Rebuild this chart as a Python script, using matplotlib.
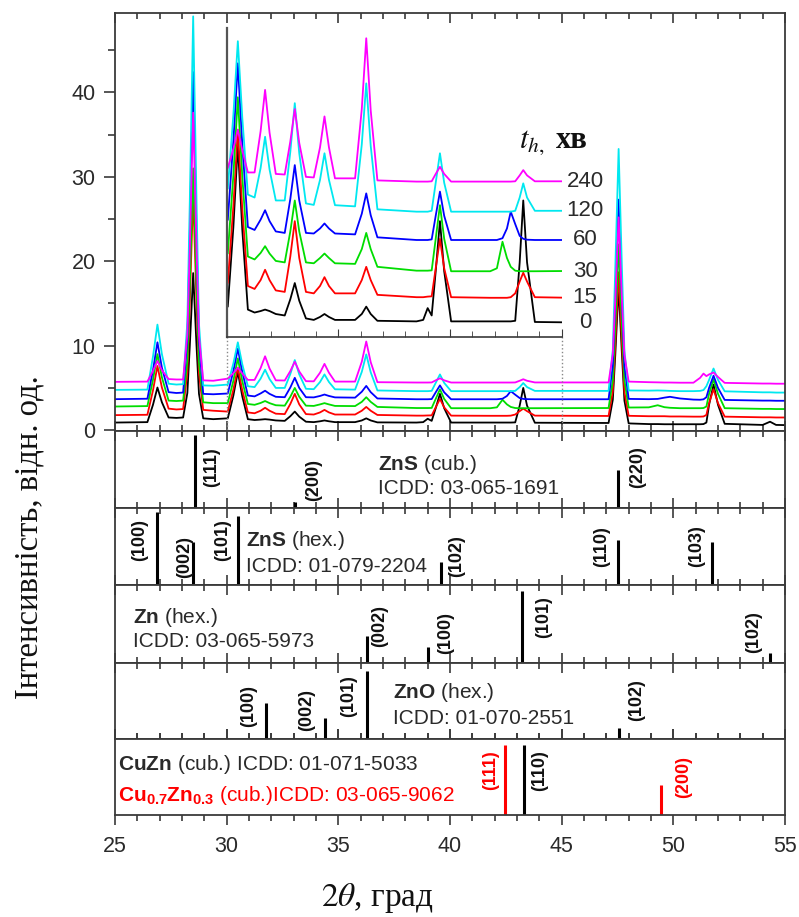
import numpy as np
import matplotlib.pyplot as plt
from matplotlib import transforms
from matplotlib.ticker import MultipleLocator

plt.rcParams['font.family'] = ['Liberation Sans', 'DejaVu Sans']
plt.rcParams['mathtext.fontset'] = 'custom'
plt.rcParams['mathtext.rm'] = 'Liberation Sans'
plt.rcParams['mathtext.bf'] = 'Liberation Sans:bold'
plt.rcParams['mathtext.it'] = 'Liberation Sans:italic'

# --- XRD patterns, 2theta grid (deg) and intensities for each hold time ---
two_theta = [25.0, 26.45, 26.7, 26.9, 27.1, 27.4, 27.75,
             28.05, 28.24, 28.35, 28.5, 28.65, 28.76, 28.95, 29.4,
             30.05, 30.3, 30.5, 30.7, 30.95,
             31.25, 31.52, 31.72, 31.92, 32.2,
             32.6, 32.85, 33.05, 33.25, 33.55,
             33.9, 34.18, 34.38, 34.58, 34.85,
             35.75, 36.05, 36.25, 36.45, 36.75,
             38.5, 38.8, 39.0, 39.18, 39.36, 39.55, 39.74, 40.05,
             41.8, 42.1, 42.35, 42.55, 42.72, 42.92, 43.12, 43.28, 43.45, 43.8,
             47.1, 47.29, 47.4, 47.55, 47.7, 47.81, 48.0,
             48.9, 49.3, 49.6, 49.85, 50.3,
             50.9, 51.2, 51.35, 51.48, 51.6, 51.8, 52.0, 52.3,
             54.0, 54.33, 54.6, 55.0]

i_0 = [0.9, 0.95, 3.0, 5.05, 3.3, 1.5, 1.45,
       1.5, 4.4, 10.0, 18.6, 10.0, 4.3, 1.4, 1.3,
       1.4, 4.1, 6.9, 4.0, 1.3,
       1.2, 1.25, 1.3, 1.25, 1.15,
       1.1, 1.65, 2.2, 1.6, 1.0,
       0.95, 1.05, 1.15, 1.05, 0.95,
       0.95, 1.15, 1.4, 1.15, 0.92,
       0.9, 0.95, 1.35, 1.1, 2.6, 4.3, 2.6, 0.9,
       0.9, 0.9, 0.9, 0.9, 0.9, 0.92, 2.9, 5.0, 2.9, 0.88,
       0.85, 3.6, 8.9, 17.0, 8.9, 3.5, 0.8,
       0.72, 0.72, 0.7, 0.7, 0.7,
       0.7, 0.7, 0.72, 0.9, 3.0, 5.4, 3.0, 0.75,
       0.62, 1.0, 0.62, 0.6]

i_15 = [1.78, 1.82, 4.7, 7.6, 5.05, 2.55, 2.45,
        2.5, 6.85, 15.2, 28.0, 15.2, 6.7, 2.4, 2.3,
        2.2, 4.8, 7.4, 4.7, 2.1,
        2.0, 2.3, 2.65, 2.3, 1.95,
        1.9, 3.1, 4.3, 3.05, 1.9,
        1.85, 2.1, 2.4, 2.1, 1.85,
        1.85, 2.3, 2.75, 2.3, 1.8,
        1.72, 1.72, 1.74, 1.75, 2.7, 3.7, 2.7, 1.72,
        1.7, 1.7, 1.7, 1.7, 1.72, 1.85, 2.25, 2.55, 2.25, 1.72,
        1.68, 4.6, 10.2, 18.7, 10.2, 4.5, 1.7,
        1.65, 1.65, 1.65, 1.62, 1.62,
        1.6, 1.6, 1.62, 1.8, 3.2, 4.85, 3.2, 1.6,
        1.52, 1.52, 1.5, 1.5]

i_30 = [2.8, 2.85, 5.95, 9.0, 6.25, 3.5, 3.45,
        3.5, 8.2, 17.2, 31.0, 17.2, 8.0, 3.3, 3.2,
        3.2, 5.85, 8.5, 5.8, 3.1,
        3.0, 3.22, 3.45, 3.2, 2.95,
        2.9, 3.95, 5.0, 3.95, 2.9,
        2.87, 3.05, 3.2, 3.05, 2.87,
        2.85, 3.35, 3.9, 3.35, 2.75,
        2.62, 2.62, 2.62, 2.63, 3.7, 4.84, 3.7, 2.6,
        2.6, 2.7, 3.6, 3.05, 2.75, 2.62, 2.6, 2.6, 2.6, 2.6,
        2.62, 5.9, 12.3, 22.0, 12.3, 5.9, 2.68,
        2.7, 2.95, 2.72, 2.65, 2.6,
        2.6, 2.6, 2.62, 2.8, 4.3, 6.0, 4.3, 2.6,
        2.52, 2.52, 2.5, 2.5]

i_60 = [3.67, 3.72, 7.1, 10.4, 7.4, 4.5, 4.4,
        4.45, 10.9, 23.4, 42.4, 23.3, 10.6, 4.3, 4.25,
        4.34, 7.0, 9.65, 6.9, 4.1,
        4.0, 4.35, 4.67, 4.3, 3.95,
        3.9, 5.05, 6.2, 5.0, 3.9,
        3.88, 4.05, 4.22, 4.05, 3.88,
        3.85, 4.55, 5.24, 4.5, 3.75,
        3.66, 3.66, 3.66, 3.68, 4.48, 5.3, 4.48, 3.66,
        3.66, 3.66, 3.72, 4.05, 4.62, 4.2, 3.8, 3.7, 3.67, 3.66,
        3.66, 7.7, 15.5, 27.3, 15.4, 7.6, 3.7,
        3.67, 3.7, 3.85, 3.95, 3.75,
        3.62, 3.6, 3.65, 3.9, 5.0, 6.45, 5.0, 3.58,
        3.5, 3.5, 3.48, 3.48]

i_120 = [4.77, 4.8, 8.7, 12.5, 9.0, 5.5, 5.4,
         5.45, 12.85, 27.2, 49.0, 27.1, 12.6, 5.3, 5.26,
         5.4, 7.9, 10.4, 7.8, 5.2,
         5.1, 6.1, 7.16, 6.05, 5.0,
         5.0, 6.65, 8.3, 6.6, 4.9,
         4.85, 5.7, 6.6, 5.7, 4.84,
         4.8, 6.9, 8.97, 6.85, 4.7,
         4.62, 4.62, 4.62, 4.65, 5.6, 6.6, 5.6, 4.62,
         4.62, 4.62, 4.62, 4.62, 4.62, 4.65, 5.1, 5.58, 5.1, 4.65,
         4.65, 9.5, 19.0, 33.3, 19.0, 9.4, 4.7,
         4.68, 4.7, 4.68, 4.65, 4.62,
         4.62, 4.65, 4.75, 5.2, 5.95, 7.3, 5.95, 4.6,
         4.48, 4.48, 4.45, 4.45]

i_240 = [5.72, 5.75, 7.0, 8.2, 7.1, 6.05, 6.0,
         6.0, 11.4, 21.7, 37.6, 21.7, 11.2, 5.9, 5.85,
         6.1, 6.75, 7.4, 6.7, 5.95,
         5.95, 7.35, 8.75, 7.3, 5.9,
         5.88, 7.0, 8.1, 6.95, 5.8,
         5.78, 6.8, 7.85, 6.8, 5.75,
         5.75, 8.1, 10.5, 8.05, 5.68,
         5.64, 5.64, 5.64, 5.65, 5.9, 6.14, 5.9, 5.64,
         5.64, 5.64, 5.64, 5.64, 5.64, 5.65, 5.85, 6.03, 5.85, 5.65,
         5.65, 9.0, 15.4, 25.2, 15.4, 8.9, 5.75,
         5.68, 5.66, 5.64, 5.64, 5.62,
         5.62, 6.2, 6.7, 6.4, 6.6, 6.83, 6.3, 5.6,
         5.52, 5.52, 5.5, 5.5]

hold_times = ['0', '15', '30', '60', '120', '240']
series = [i_0, i_15, i_30, i_60, i_120, i_240]
colors = ['#000000', '#ff0000', '#00dd00', '#0000ff', '#00e8f0', '#ff00ff']

# --- reference cards: positions, relative intensities, hkl ---
zns_cub_pos = [28.56, 33.08, 47.51]
zns_cub_int = [0.95, 0.08, 0.5]
zns_cub_hkl = ['(111)', '(200)', '(220)']

zns_hex_pos = [26.9, 28.5, 30.52, 39.58, 47.53, 51.74]
zns_hex_int = [0.95, 0.56, 0.9, 0.3, 0.58, 0.56]
zns_hex_hkl = ['(100)', '(002)', '(101)', '(102)', '(110)', '(103)']

zn_pos = [36.28, 39.02, 43.24, 54.33]
zn_int = [0.34, 0.21, 0.92, 0.13]
zn_hkl = ['(002)', '(100)', '(101)', '(102)']

zno_pos = [31.76, 34.42, 36.27, 47.55]
zno_int = [0.47, 0.27, 0.9, 0.14]
zno_hkl = ['(100)', '(002)', '(101)', '(102)']

cuzn_pos = [43.32]
cuzn_int = [0.92]
cuzn_hkl = ['(110)']

cu7zn3_pos = [42.45, 49.44]
cu7zn3_int = [0.92, 0.4]
cu7zn3_hkl = ['(111)', '(200)']

# label placement (x in deg, y as panel fraction)
zns_cub_lbl = [(29.33, 0.53), (33.9, 0.36), (48.4, 0.53)]
zns_hex_lbl = [(26.1, 0.58), (28.1, 0.37), (29.8, 0.58), (40.3, 0.37), (46.8, 0.5), (51.05, 0.5)]
zn_lbl = [(36.87, 0.47), (39.82, 0.38), (44.17, 0.59), (53.58, 0.4)]
zno_lbl = [(30.97, 0.43), (33.6, 0.38), (35.45, 0.56), (48.36, 0.51)]
cuzn_lbl = [(44.03, 0.59)]
cu7zn3_lbl = [(41.8, 0.59), (50.45, 0.5)]

W, H = 799, 917
spine_c = '#3a3a3a'
txt_c = '#2a2a2a'

fig = plt.figure(figsize=(W / 100, H / 100), dpi=100)
gs = fig.add_gridspec(6, 1, left=115 / W, right=785 / W, top=1 - 13 / H,
                      bottom=1 - 815 / H, hspace=0,
                      height_ratios=[418, 77, 77, 78, 76, 76])
ax = fig.add_subplot(gs[0])
panels = [fig.add_subplot(gs[i], sharex=ax) for i in range(1, 6)]

for y, c in zip(series, colors):
    ax.plot(two_theta, y, color=c, lw=1.3, solid_joinstyle='round')

ax.set_xlim(25, 55)
ax.set_ylim(-0.1, 49.4)
ax.yaxis.set_major_locator(MultipleLocator(10))
ax.yaxis.set_minor_locator(MultipleLocator(5))
ax.xaxis.set_major_locator(MultipleLocator(5))
ax.xaxis.set_minor_locator(MultipleLocator(1))
ax.tick_params(axis='y', which='both', direction='out', right=False, colors=spine_c,
               labelsize=15.5, labelcolor=txt_c, pad=6)
ax.tick_params(axis='y', which='major', length=8, width=1.2)
ax.tick_params(axis='y', which='minor', length=5, width=1.2)
ax.tick_params(axis='x', which='both', direction='in', top=True, bottom=True,
               labelbottom=False, colors=spine_c, width=1.2)
ax.tick_params(axis='x', which='major', length=7)
ax.tick_params(axis='x', which='minor', length=4)

# dotted guides from inset down to the main axis
ax.plot([30, 30], [0, 11.03], ls=':', color='#888888', lw=1.0)
ax.plot([45, 45], [0, 11.03], ls=':', color='#888888', lw=1.0)

# inset
axin = ax.inset_axes([30, 11.03, 15, 36.6], transform=ax.transData)
for y, c in zip(series, colors):
    axin.plot(two_theta, y, color=c, lw=1.3, solid_joinstyle='round')
axin.set_xlim(30, 45)
axin.set_ylim(0.37, 10.85)
axin.set_facecolor('none')
axin.spines['top'].set_visible(False)
axin.spines['right'].set_visible(False)
axin.spines['left'].set_color('#555555')
axin.spines['left'].set_linewidth(1.6)
axin.spines['bottom'].set_color(spine_c)
axin.spines['bottom'].set_linewidth(1.2)
axin.set_yticks([])
axin.xaxis.set_major_locator(MultipleLocator(5))
axin.xaxis.set_minor_locator(MultipleLocator(1))
axin.tick_params(axis='x', which='both', direction='in', labelbottom=False, colors=spine_c)
axin.tick_params(axis='x', which='major', length=6)
axin.tick_params(axis='x', which='minor', length=4)

for lbl, y in zip(hold_times, series):
    axin.text(46.05, np.interp(45, two_theta, y), lbl, ha='center', va='center',
              fontsize=16, color=txt_c, clip_on=False)

ax.text(43.1, 33.4, r'$t_{h,}$', fontsize=22, math_fontfamily='stix',
        ha='left', va='baseline', color='#111111')
ax.text(44.75, 33.4, 'хв', fontsize=22, family='Liberation Serif', fontweight='bold',
        ha='left', va='baseline', color='#111111')

# reference panels
cards = [
    ([(zns_cub_pos, zns_cub_int, zns_cub_hkl, zns_cub_lbl, 'k')],
     [(36.78, 0.57, r'$\mathbf{ZnS}$ (cub.)', txt_c), (36.78, 0.25, 'ICDD: 03-065-1691', txt_c)]),
    ([(zns_hex_pos, zns_hex_int, zns_hex_hkl, zns_hex_lbl, 'k')],
     [(30.85, 0.58, r'$\mathbf{ZnS}$ (hex.)', txt_c), (30.85, 0.24, 'ICDD: 01-079-2204', txt_c)]),
    ([(zn_pos, zn_int, zn_hkl, zn_lbl, 'k')],
     [(25.8, 0.58, r'$\mathbf{Zn}$ (hex.)', txt_c), (25.8, 0.27, 'ICDD: 03-065-5973', txt_c)]),
    ([(zno_pos, zno_int, zno_hkl, zno_lbl, 'k')],
     [(37.45, 0.61, r'$\mathbf{ZnO}$ (hex.)', txt_c), (37.45, 0.27, 'ICDD: 01-070-2551', txt_c)]),
    ([(cu7zn3_pos, cu7zn3_int, cu7zn3_hkl, cu7zn3_lbl, '#ff0000'),
      (cuzn_pos, cuzn_int, cuzn_hkl, cuzn_lbl, 'k')],
     [(25.15, 0.66, r'$\mathbf{CuZn}$ (cub.) ICDD: 01-071-5033', txt_c),
      (25.15, 0.26, r'$\mathbf{Cu_{0.7}Zn_{0.3}}$ (cub.)ICDD: 03-065-9062', '#ff0000')]),
]

for p, (sticks, texts) in zip(panels, cards):
    trans = transforms.blended_transform_factory(p.transData, p.transAxes)
    for pos, inten, hkl, lbl, c in sticks:
        p.vlines(pos, 0, inten, color=c, lw=2.2)
        for h, (lx, ly) in zip(hkl, lbl):
            p.text(lx, ly, h, transform=trans, rotation=90, ha='center', va='center',
                   fontsize=13, fontweight='bold', color=c if c != 'k' else '#111111')
    for tx, ty, s, c in texts:
        p.text(tx, ty, s, transform=trans, ha='left', va='center', fontsize=15,
               color=c, math_fontfamily='custom')
    p.set_ylim(0, 1)
    p.set_yticks([])
    p.tick_params(axis='x', which='both', direction='in', top=True, bottom=True,
                  labelbottom=False, colors=spine_c, width=1.2)
    p.tick_params(axis='x', which='major', length=7)
    p.tick_params(axis='x', which='minor', length=4)

last = panels[-1]
last.tick_params(axis='x', which='both', direction='out', labelbottom=True,
                 labelsize=15.5, labelcolor=txt_c, pad=8)
last.set_xticks([25, 30, 35, 40, 45, 50, 55])

for a in [ax] + panels:
    for s in a.spines.values():
        s.set_color(spine_c)
        s.set_linewidth(1.3)

fig.text(377 / W, 1 - 898 / H, r'$\mathit{2}\theta$, град', fontsize=24,
         family='Liberation Serif', math_fontfamily='stix', ha='center', va='center',
         color='#111111')
fig.text(29 / W, 1 - 537 / H, 'Інтенсивність, відн. од.', rotation=90, fontsize=23.5,
         family='Liberation Serif', ha='center', va='center', color='#111111')

fig.savefig('out.png', dpi=100)
